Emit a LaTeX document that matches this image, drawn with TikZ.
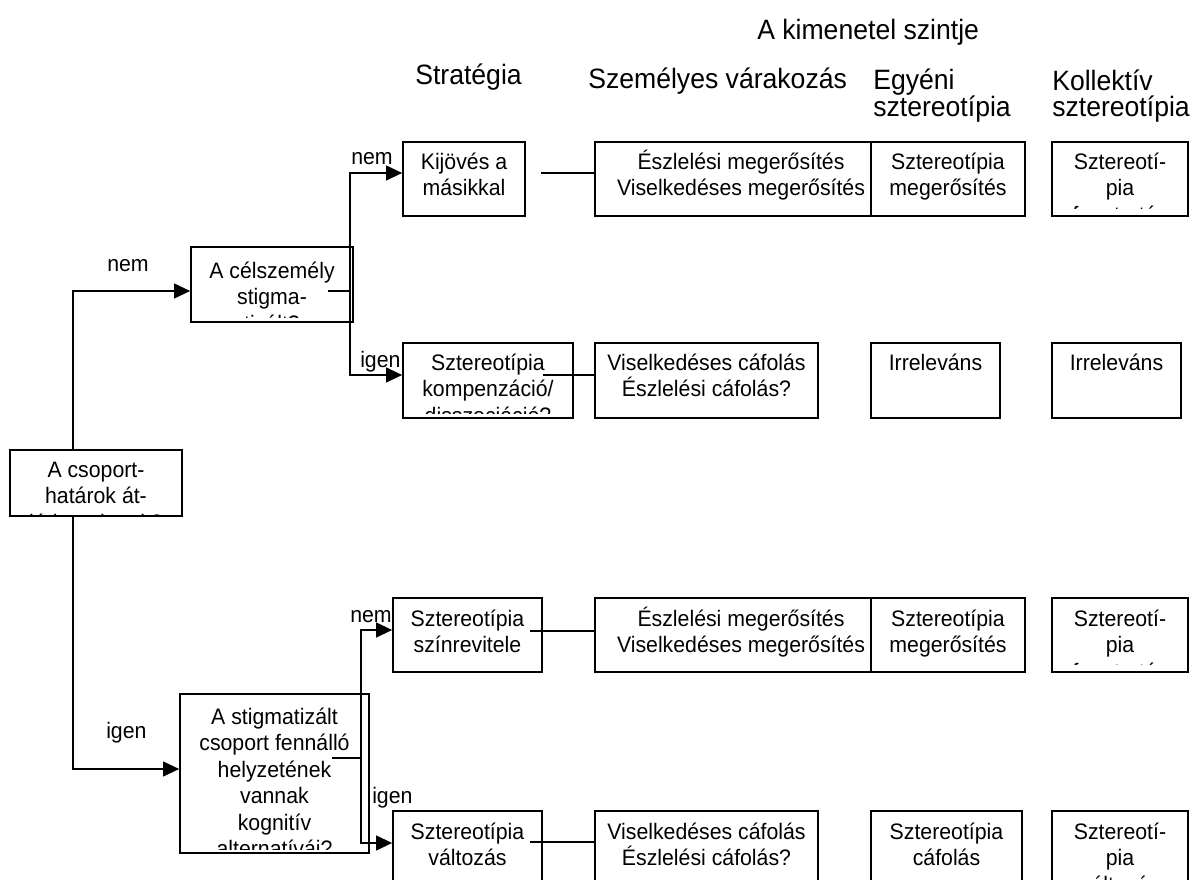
\documentclass[tikz,border=0pt]{standalone}
\usepackage{fontspec}
\setmainfont{Liberation Sans}
\newfontfamily\condfont[FakeStretch=0.95]{Liberation Sans}
\usetikzlibrary{arrows.meta}
\newcommand\bxfont{\condfont\fontsize{16.8}{19.9}\selectfont}
\newcommand\hdfont{\condfont\fontsize{21}{19.5}\selectfont}
\tikzset{
  boxst/.style={draw, line width=1.2pt, inner sep=0pt},
  txt/.style={anchor=north, inner sep=0pt, align=center, font=\bxfont},
  hd/.style={anchor=base west, inner sep=0pt, align=left, font=\hdfont},
  lbl/.style={anchor=base west, inner sep=0pt, font=\bxfont},
  arr/.style={line width=1.5pt, -{Triangle[length=12pt,width=11pt]}},
  thinln/.style={line width=1pt},
}
\def\clipoff{-4}
% #1 extra style, #2 name, #3 x1, #4 y1, #5 x2, #6 y2, #7 text shift, #8 text
\newcommand\tbx[8][]{%
  \node[boxst,#1,minimum width={(#5-#3)*0.75pt},minimum height={(#6-#4)*0.75pt}] (#2) at ({(#3+#5)/2},{(#4+#6)/2}) {};
  \begin{scope}
    \clip (#3,#4) rectangle (#5,{#6+\clipoff});
    \node[txt] (#2-t) at ({(#3+#5)/2},{#4+5.7+#7}) {\rule{0pt}{16pt}#8};
  \end{scope}}
\begin{document}
\begin{tikzpicture}[x=0.75pt,y=-0.75pt]
\useasboundingbox (0,0) rectangle (1190,880);
\clip (0,0) rectangle (1190,880);
\fill[white] (0,0) rectangle (1190,880);

% headers
\node[hd] (h0) at (757,40) {A kimenetel szintje};
\node[hd] (h1) at (415,85) {Stratégia};
\node[hd] (h2) at (588,89) {Személyes várakozás};
\node[hd] (h3) at (873,117) {Egyéni\\sztereotípia};
\node[hd] (h4) at (1052,117) {Kollektív\\sztereotípia};

% decision boxes
\def\clipoff{1}
\tbx{grp}{10}{450}{182}{516}{0}{A csoport-\\határok át-\\járhatatlanok?}
\def\clipoff{-4}
\tbx{cel}{191}{247}{353}{322}{4}{A célszemély\\stigma-\\tizált?}
\tbx{stig}{180}{694}{369}{853}{3}{A stigmatizált\\csoport fennálló\\helyzetének\\vannak\\kognitív\\alternatívái?}

% strategy boxes
\tbx{kij}{403}{142}{525}{216}{0}{Kijövés a\\másikkal}
\tbx{komp}{403}{343}{573}{418}{0}{Sztereotípia\\kompenzáció/\\disszociáció?}
\tbx{szin}{393}{598}{542}{672}{1}{Sztereotípia\\színrevitele}
\tbx{valt}{393}{811}{542}{890}{1}{Sztereotípia\\változás}

% personal expectation
\tbx{e1}{595}{142}{887}{216}{0}{Észlelési megerősítés\\Viselkedéses megerősítés}
\tbx{e2}{595}{343}{818}{418}{0}{Viselkedéses cáfolás\\Észlelési cáfolás?}
\tbx{e3}{595}{598}{887}{672}{1}{Észlelési megerősítés\\Viselkedéses megerősítés}
\tbx{e4}{595}{811}{818}{890}{1}{Viselkedéses cáfolás\\Észlelési cáfolás?}

% individual stereotype
\tbx[fill=white]{i1}{871}{142}{1025}{216}{0}{Sztereotípia\\megerősítés}
\tbx{i2}{871}{343}{1000}{418}{0}{Irreleváns}
\tbx[fill=white]{i3}{871}{598}{1025}{672}{1}{Sztereotípia\\megerősítés}
\tbx{i4}{871}{811}{1022}{890}{1}{Sztereotípia\\cáfolás}

% collective stereotype
\def\clipoff{-7}
\tbx{k1}{1052}{142}{1188}{216}{0}{Sztereotí-\\pia\\fenntartás}
\tbx{k2}{1052}{343}{1181}{418}{0}{Irreleváns}
\tbx{k3}{1052}{598}{1188}{672}{1}{Sztereotí-\\pia\\fenntartás}
\tbx{k4}{1052}{811}{1188}{890}{1}{Sztereotí-\\pia\\változás}
\def\clipoff{-4}

% helper coordinates
\coordinate (xg) at (73,0);
\coordinate (ycel) at (0,291);
\coordinate (ystig) at (0,769);
\coordinate (cel-s) at (328,291);
\coordinate (cel-j) at (350,291);
\coordinate (y1) at (0,173);
\coordinate (y2) at (0,375);
\coordinate (stig-s) at (332,758);
\coordinate (stig-j) at (361,758);
\coordinate (y3) at (0,630);
\coordinate (y4) at (0,843);
\coordinate (c1) at (541,173);
\coordinate (c2) at (543,375);
\coordinate (c3) at (530,631);
\coordinate (c4) at (530,842);

% connectors
\draw[arr] (grp.north -| xg) |- (cel.west |- ycel);
\draw[arr] (grp.south -| xg) |- (stig.west |- ystig);
\draw[thinln] (cel-s) -- (cel-j);
\draw[arr] (cel-j) |- (kij.west |- y1);
\draw[arr] (cel-j) |- (komp.west |- y2);
\draw[thinln] (stig-s) -- (stig-j);
\draw[arr] (stig-j) |- (szin.west |- y3);
\draw[arr] (stig-j) |- (valt.west |- y4);
\draw[thinln] (c1) -- (e1.west |- c1);
\draw[thinln] (c2) -- (e2.west |- c2);
\draw[thinln] (c3) -- (e3.west |- c3);
\draw[thinln] (c4) -- (e4.west |- c4);

% labels
\node[lbl] (l1) at (107,272) {nem};
\node[lbl] (l2) at (106,739) {igen};
\node[lbl] (l3) at (351,165) {nem};
\node[lbl] (l4) at (360,368) {igen};
\node[lbl] (l5) at (350,623) {nem};
\node[lbl] (l6) at (372,803) {igen};
\end{tikzpicture}
\end{document}
